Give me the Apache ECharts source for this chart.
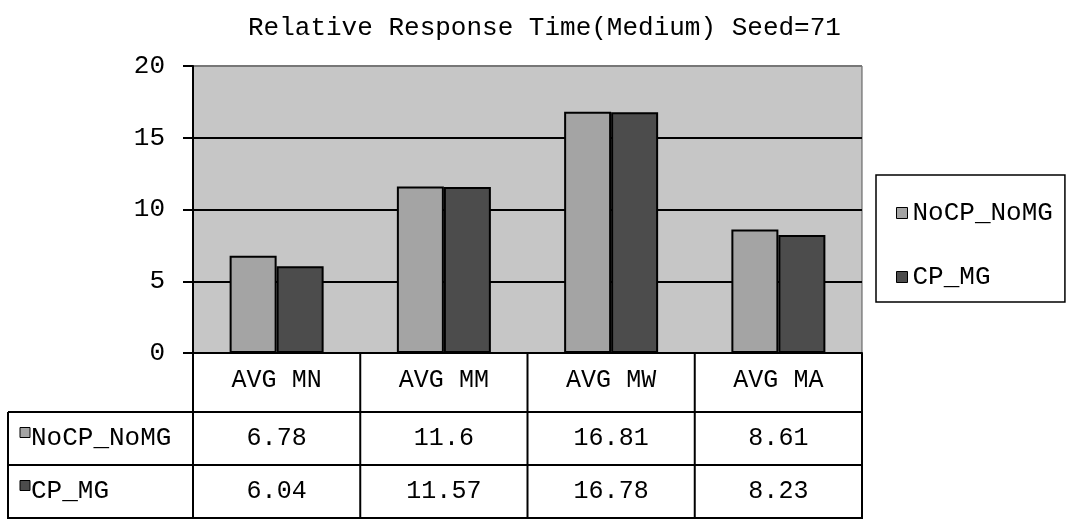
<!DOCTYPE html>
<html>
<head>
<meta charset="utf-8">
<script src="https://cdn.jsdelivr.net/npm/echarts@6/dist/echarts.min.js"></script>
<style>html,body{margin:0;padding:0;background:#fff}#c{width:1069px;height:519px}</style>
</head>
<body>
<div id="c"></div>
<script>
const titleText = 'Relative Response Time(Medium) Seed=71';
const categories = ['AVG MN', 'AVG MM', 'AVG MW', 'AVG MA'];
const seriesNames = ['NoCP_NoMG', 'CP_MG'];
const noCpNoMg = [6.78, 11.6, 16.81, 8.61];
const cpMg = [6.04, 11.57, 16.78, 8.23];
const yTicks = [0, 5, 10, 15, 20];
const seriesColors = ['#a4a4a4', '#4c4c4c'];

const FONT = 'Liberation Mono';
const chart = echarts.init(document.getElementById('c'), null, {renderer: 'canvas'});

const option = {
  animation: false,
  backgroundColor: '#fff',
  title: {
    text: titleText, left: 243, top: 10,
    textStyle: {fontFamily: FONT, fontSize: 26, fontWeight: 'normal', color: '#000'}
  },
  legend: {
    orient: 'vertical', left: 876, top: 175,
    data: seriesNames.map(s => ({name: s, icon: 'rect'})),
    itemWidth: 11, itemHeight: 11, itemGap: 38,
    padding: [25, 12, 12, 20],
    borderColor: '#000', borderWidth: 1.5,
    textStyle: {fontFamily: FONT, fontSize: 26, color: '#000'},
    itemStyle: {borderColor: '#000', borderWidth: 1}
  },
  grid: {
    left: 193, right: 207, top: 66, bottom: 166,
    show: true, backgroundColor: '#c6c6c6', borderColor: '#555', borderWidth: 1
  },
  xAxis: {
    type: 'category', data: categories,
    axisLine: {lineStyle: {color: '#000', width: 2}},
    axisTick: {show: false},
    axisLabel: {fontFamily: FONT, fontSize: 25, color: '#000', margin: 15}
  },
  yAxis: {
    type: 'value', min: yTicks[0], max: yTicks[yTicks.length - 1], interval: yTicks[1] - yTicks[0],
    axisLine: {show: true, lineStyle: {color: '#000', width: 2}},
    axisTick: {show: true, length: 10, lineStyle: {color: '#000', width: 2}},
    axisLabel: {fontFamily: FONT, fontSize: 26, color: '#000', margin: 28},
    splitLine: {show: true, lineStyle: {color: ['#000', '#000', '#000', '#000', '#777'], width: 2}}
  },
  series: [
    {name: seriesNames[0], type: 'bar', data: noCpNoMg, barWidth: 47, barGap: '0%',
     itemStyle: {color: seriesColors[0], borderColor: '#000', borderWidth: 2}},
    {name: seriesNames[1], type: 'bar', data: cpMg, barWidth: 47, barGap: '0%',
     itemStyle: {color: seriesColors[1], borderColor: '#000', borderWidth: 2}}
  ]
};
chart.setOption(option);

// Data table under the plot, columns aligned to the category axis
const n = categories.length;
const c0 = chart.convertToPixel({xAxisIndex: 0}, 0);
const c1 = chart.convertToPixel({xAxisIndex: 0}, 1);
const band = c1 - c0;
const xs = [];
for (let i = 0; i <= n; i++) xs.push(c0 - band / 2 + i * band);
const yZero = chart.convertToPixel({yAxisIndex: 0}, 0);
const tableLeft = 8;
const rowTops = [412, 465, 518];
const rows = [noCpNoMg, cpMg];
const g = [];
const ls = {stroke: '#000', lineWidth: 2};
xs.forEach(x => g.push({type: 'line', shape: {x1: x, y1: yZero, x2: x, y2: 519}, style: ls, z: 100}));
g.push({type: 'line', shape: {x1: tableLeft, y1: rowTops[0], x2: tableLeft, y2: 519}, style: ls, z: 100});
rowTops.forEach(y => g.push({type: 'line', shape: {x1: tableLeft, y1: y, x2: xs[n], y2: y}, style: ls, z: 100}));
rows.forEach((vals, r) => {
  const yc = (rowTops[r] + rowTops[r + 1]) / 2;
  g.push({type: 'rect', shape: {x: 20, y: yc - 11, width: 10, height: 10},
          style: {fill: seriesColors[r], stroke: '#000', lineWidth: 1}, z: 100});
  g.push({type: 'text', x: 31, y: yc, style: {text: seriesNames[r], font: '26px "' + FONT + '"',
          fill: '#000', align: 'left', verticalAlign: 'middle'}, z: 100});
  vals.forEach((v, i) => {
    g.push({type: 'text', x: (xs[i] + xs[i + 1]) / 2, y: yc,
            style: {text: String(v), font: '25px "' + FONT + '"', fill: '#000',
                    align: 'center', verticalAlign: 'middle'}, z: 100});
  });
});
chart.setOption({graphic: g});
</script>
</body>
</html>
